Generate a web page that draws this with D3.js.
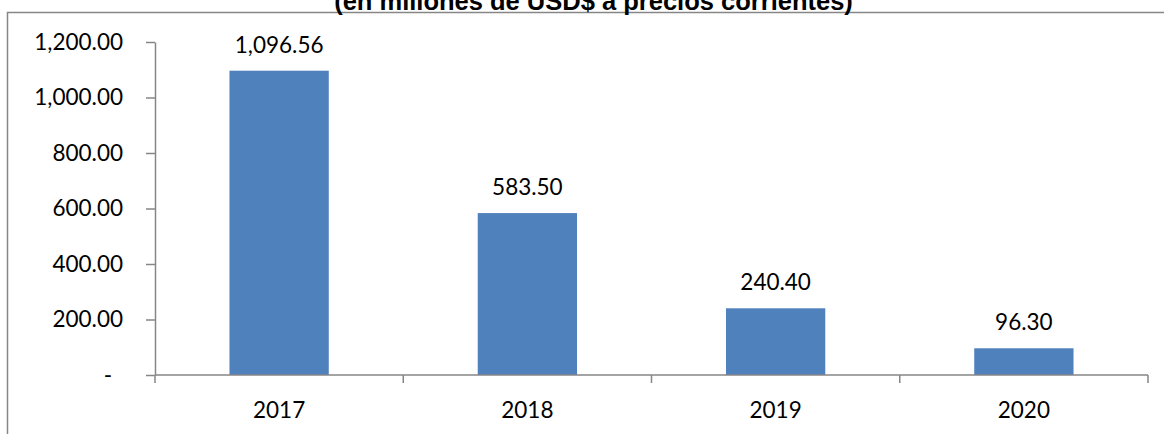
<!DOCTYPE html>
<html>
<head>
<meta charset="utf-8">
<script src="https://cdn.jsdelivr.net/npm/d3@7"></script>
<style>
  html, body { margin: 0; padding: 0; background: #fff; }
  svg { display: block; }
</style>
</head>
<body>
<svg id="chart" width="1164" height="434"></svg>
<script>
// Annual values, millions of USD at current prices
const years = ["2017", "2018", "2019", "2020"];
const values = [1096.56, 583.50, 240.40, 96.30];
const yTicks = [0, 200, 400, 600, 800, 1000, 1200];
const subtitle = "(en millones de USD$ a precios corrientes)";

const svg = d3.select("#chart");
const W = 1164, H = 434;
const axisColor = "#868686";
const barColor = "#4F81BD";
const labelFont = "Lato, 'Open Sans', sans-serif";

const plot = { left: 155, right: 1148, top: 42, bottom: 375 };

// Outer frame of the chart area (runs past the right and bottom edges)
svg.append("rect")
  .attr("x", 7.5).attr("y", 12.5)
  .attr("width", W + 20).attr("height", H + 20)
  .attr("fill", "none")
  .attr("stroke", axisColor)
  .attr("stroke-width", 1.5);

// Subtitle line
svg.append("text")
  .attr("x", 593.5).attr("y", 10)
  .attr("text-anchor", "middle")
  .attr("font-family", "'Liberation Sans', Arial, sans-serif")
  .attr("font-weight", "bold")
  .attr("font-size", 25.5)
  .attr("fill", "#000")
  .text(subtitle);

const y = d3.scaleLinear().domain([0, 1200]).range([plot.bottom, plot.top]);
const x = d3.scaleBand().domain(years)
  .range([plot.left, plot.right])
  .paddingInner(0.6).paddingOuter(0.3);

// Bars
svg.append("g").selectAll("rect")
  .data(values)
  .join("rect")
  .attr("x", (d, i) => x(years[i]))
  .attr("y", d => y(d))
  .attr("width", x.bandwidth())
  .attr("height", d => y(0) - y(d))
  .attr("fill", barColor);

// Value labels above bars
const fmt = d3.format(",.2f");
svg.append("g").selectAll("text")
  .data(values)
  .join("text")
  .attr("x", (d, i) => x(years[i]) + x.bandwidth() / 2)
  .attr("y", d => y(d) - 18)
  .attr("text-anchor", "middle")
  .attr("font-family", labelFont)
  .attr("font-size", 22.5)
  .attr("fill", "#000")
  .text(d => fmt(d));

// Y axis
const yAxis = d3.axisLeft(y)
  .tickValues(yTicks)
  .tickSize(9)
  .tickSizeOuter(0)
  .tickPadding(23)
  .tickFormat(d => d === 0 ? "-" : fmt(d));
const gy = svg.append("g")
  .attr("transform", `translate(${plot.left},0)`)
  .call(yAxis);
gy.select(".domain").attr("stroke", axisColor).attr("stroke-width", 1.5);
gy.selectAll(".tick line").attr("stroke", axisColor).attr("stroke-width", 1.5);
gy.selectAll(".tick text")
  .attr("font-family", labelFont)
  .attr("font-size", 22.5)
  .attr("fill", "#000")
  .attr("dx", d => d === 0 ? -11 : 0);

// X axis: baseline with category boundary ticks
const step = x.step();
const bounds = years.map(c => x(c) - step * x.paddingInner() / 2)
  .concat([x(years[years.length - 1]) + x.bandwidth() + step * x.paddingInner() / 2]);
const gx = svg.append("g").attr("transform", `translate(0,${plot.bottom})`);
gx.append("line")
  .attr("x1", bounds[0]).attr("x2", bounds[bounds.length - 1])
  .attr("stroke", axisColor).attr("stroke-width", 1.5);
gx.selectAll("line.bound")
  .data(bounds)
  .join("line")
  .attr("class", "bound")
  .attr("x1", d => d).attr("x2", d => d)
  .attr("y1", 0).attr("y2", 8)
  .attr("stroke", axisColor).attr("stroke-width", 1.5);
gx.selectAll("text")
  .data(years)
  .join("text")
  .attr("x", d => x(d) + x.bandwidth() / 2)
  .attr("y", 43)
  .attr("text-anchor", "middle")
  .attr("font-family", labelFont)
  .attr("font-size", 22.5)
  .attr("fill", "#000")
  .text(d => d);
</script>
</body>
</html>
